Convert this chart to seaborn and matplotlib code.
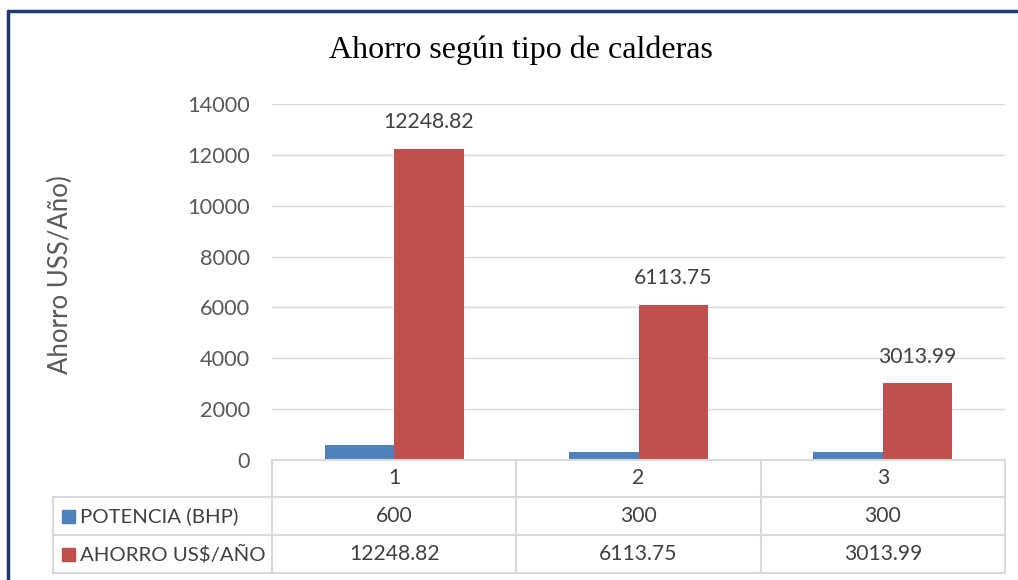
import matplotlib.pyplot as plt
import matplotlib.transforms as mtransforms
import seaborn as sns
import pandas as pd

# data
categorias = ["1", "2", "3"]
series = ["POTENCIA (BHP)", "AHORRO US$/AÑO"]
potencia = [600, 300, 300]
ahorro = [12248.82, 6113.75, 3013.99]
etiquetas_ahorro = ["12248.82", "6113.75", "3013.99"]
etiquetas_potencia = ["600", "300", "300"]
colores = ["#4F81BD", "#C0504D"]

W, H = 1018, 580

df = pd.DataFrame({
    "categoria": categorias * 2,
    "serie": [series[0]] * 3 + [series[1]] * 3,
    "valor": potencia + ahorro,
})

sns.set_style("white")
plt.rcParams["font.family"] = ["Lato", "DejaVu Sans"]
texto = "#404040"
fs = 15.2

fig = plt.figure(figsize=(W / 100, H / 100), dpi=100)
ax = fig.add_axes([272 / W, 1 - 460 / H, (1005 - 272) / W, (460 - 104) / H])

sns.barplot(data=df, x="categoria", y="valor", hue="serie", order=categorias,
            hue_order=series, palette=colores, saturation=1, width=0.57,
            gap=0, linewidth=0, legend=False, ax=ax)

ax.set_xlim(-0.5, 2.5)
ax.set_ylim(0, 14000)
ax.set_yticks(range(0, 14001, 2000))
ax.tick_params(axis="y", length=0, pad=16, labelsize=fs + 0.5, labelcolor="#595959")
ax.set_xticks([])
ax.set_xlabel("")
ax.set_ylabel("")
ax.grid(axis="y", color="#D9D9D9", linewidth=1)
ax.set_axisbelow(True)
for s in ax.spines.values():
    s.set_visible(False)

# data labels on the savings series only
ax.bar_label(ax.containers[1], labels=etiquetas_ahorro, padding=12,
             fontsize=fs, color=texto)

fig.text(60 / W, 1 - 275 / H, "Ahorro USS/Año)", rotation=90, ha="center",
         va="center", fontsize=18.5, color="#595959")
fig.text(521 / W, 1 - 50 / H, "Ahorro según tipo de calderas",
         ha="center", va="center", fontsize=23, family="Liberation Serif",
         color="black")

# data table under the axis
lc = "#D9D9D9"
tr = mtransforms.blended_transform_factory(ax.transData, fig.transFigure)
y_rows = [1 - 460 / H, 1 - 497 / H, 1 - 535 / H, 1 - 573 / H]
bordes = [-0.5, 0.5, 1.5, 2.5]
x_left = 53 / W
x_axis = 272 / W

for y in y_rows:
    ax.plot([-0.5, 2.5], [y, y], color=lc, lw=1.5, transform=tr, clip_on=False)
for y in y_rows[1:]:
    fig.add_artist(plt.Line2D([x_left, x_axis], [y, y], color=lc, lw=1.5))
for b in bordes:
    ax.plot([b, b], [y_rows[0], y_rows[3]], color=lc, lw=1.5, transform=tr,
            clip_on=False)
fig.add_artist(plt.Line2D([x_left, x_left], [y_rows[1], y_rows[3]], color=lc, lw=1.5))

centro = [(y_rows[i] + y_rows[i + 1]) / 2 for i in range(3)]
for i, c in enumerate(categorias):
    ax.text(i, centro[0], c, transform=tr, ha="center", va="center",
            fontsize=fs, color=texto)
    ax.text(i, centro[1], etiquetas_potencia[i], transform=tr, ha="center",
            va="center", fontsize=fs, color=texto)
    ax.text(i, centro[2], etiquetas_ahorro[i], transform=tr, ha="center",
            va="center", fontsize=fs, color=texto)

for j, nombre in enumerate(series):
    yc = centro[j + 1]
    fig.add_artist(plt.Rectangle((62 / W, yc - 6.5 / H), 13 / W, 13 / H,
                                 color=colores[j], transform=fig.transFigure))
    fig.text(80 / W, yc, nombre, ha="left", va="center", fontsize=14.7, color=texto)

# frame lines from the document
navy = "#1F3A73"
fig.add_artist(plt.Line2D([7.5 / W, 1], [1 - 11 / H, 1 - 11 / H], color=navy, lw=2.5))
fig.add_artist(plt.Line2D([7.5 / W, 7.5 / W], [0, 1 - 11 / H], color=navy, lw=2.5))

fig.savefig("out.png", dpi=100)
